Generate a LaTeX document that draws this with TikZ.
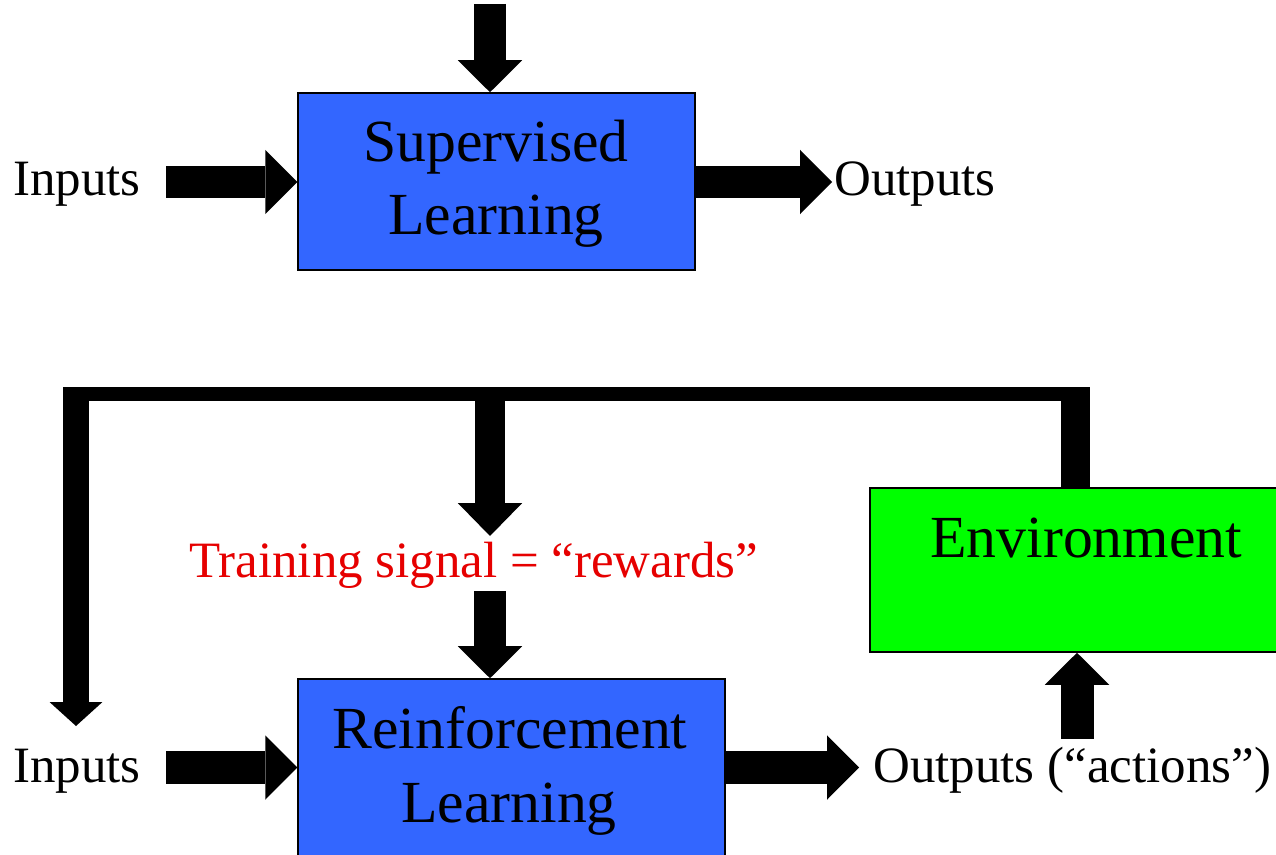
\documentclass[tikz,border=0pt]{standalone}
\usepackage{fontspec}
\setmainfont{Liberation Serif}
\usetikzlibrary{arrows.meta}
\definecolor{boxblue}{RGB}{51,102,255}
\definecolor{envgreen}{RGB}{0,255,0}
\definecolor{sigred}{RGB}{230,0,0}
\tikzset{
  blockbox/.style={draw=black, line width=0.9pt, inner sep=0pt},
  boxtext/.style={font=\fontsize{34}{40}\selectfont, inner sep=0pt, anchor=base},
  lbl/.style={font=\fontsize{29}{34}\selectfont, inner sep=0pt, anchor=base west},
  fat/.style={line width=0.66cm, -{Triangle[length=0.64cm, width=1.29cm, line width=0pt]}},
  fatthin/.style={line width=0.52cm, -{Triangle[length=0.48cm, width=1.06cm, line width=0pt]}},
  bar/.style={line width=0.58cm}
}
\begin{document}
\begin{tikzpicture}[x=0.02cm, y=-0.02cm]
\useasboundingbox (0,0) rectangle (1276,855);
\clip (0,0) rectangle (1276,855);

% boxes
\node[blockbox, fill=boxblue, minimum width=7.94cm, minimum height=3.54cm] (SL) at (496.5,181.5) {};
\node[blockbox, fill=boxblue, minimum width=8.54cm, minimum height=4.42cm] (RL) at (511.5,789.5) {};
\node[blockbox, fill=envgreen, minimum width=10cm, minimum height=3.28cm] (ENV) at (1120,570) {};

% box texts
\node[boxtext] (t1) at (496,162) {Supervised};
\node[boxtext] (t2) at (496,235) {Learning};
\node[boxtext] (t3) at (510,748) {Reinforcement};
\node[boxtext] (t4) at (509,822) {Learning};
\node[boxtext, anchor=base west] (t5) at (930,557) {Environment};

% labels
\node[lbl] (in1) at (13,195) {Inputs};
\node[lbl] (out1) at (834,195) {Outputs};
\node[lbl] (in2) at (13,782) {Inputs};
\node[lbl] (out2) at (873,782) {Outputs (``actions'')};
\node[lbl, text=sigred] (sig) at (189,577) {Training signal = ``rewards''};

% coordinates
\coordinate (topsrc) at (490,4);
\coordinate (in1src) at (166,182);
\coordinate (out1end) at (832,182);
\coordinate (in2src) at (166,767.5);
\coordinate (out2end) at (859,767.5);
\coordinate (fbL) at (76,387);
\coordinate (fbLend) at (76,726);
\coordinate (fbM) at (490,400);
\coordinate (fbMend) at (490,536);
\coordinate (sigsrc) at (490,591);
\coordinate (fbR) at (1075.5,387);
\coordinate (actsrc) at (1077,739);

% top (supervised)
\draw[fat] (topsrc) -- (topsrc |- SL.north);
\draw[fat] (in1src) -- (SL.west |- in1src);
\draw[fat] (SL.east |- out1end) -- (out1end);

% bottom (reinforcement)
\draw[fat] (in2src) -- (RL.west |- in2src);
\draw[fat] (RL.east |- out2end) -- (out2end);
\draw[fat] (sigsrc) -- (sigsrc |- RL.north);
\draw[fat] (actsrc) -- (actsrc |- ENV.south);

% feedback loop
\fill (63,387) rectangle (1090,401);
\draw[bar] (fbR |- ENV.north) -- (fbR);
\draw[fatthin] (fbL) -- (fbLend);
\draw[line width=0.6cm, -{Triangle[length=0.66cm, width=1.29cm, line width=0pt]}] (fbM) -- (fbMend);
\end{tikzpicture}
\end{document}
